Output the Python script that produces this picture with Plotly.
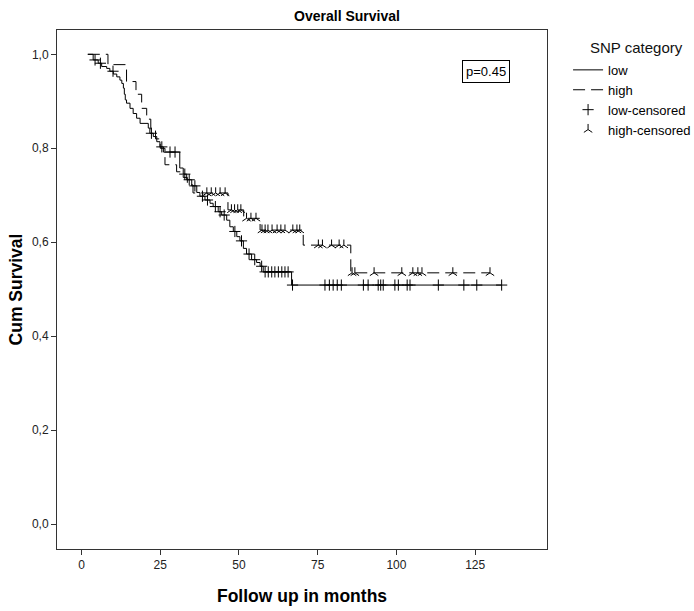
import numpy as np
import plotly.graph_objects as go

# ---- data ----
start_time = 2.0

low_event_times = [3.7, 5.3, 6.4, 8.0, 9.0, 10.1, 11.2, 12.2, 12.8, 13.3, 13.6, 13.9, 14.3, 15.4,
                   16.4, 17.5, 18.6, 21.2, 21.7, 22.8, 23.9, 24.9, 26.0, 31.2, 32.3, 33.4, 35.0,
                   36.6, 37.6, 39.2, 40.8, 41.8, 43.4, 44.5, 46.1, 47.1, 48.2, 49.3, 50.3, 51.4,
                   52.4, 54.0, 55.6, 56.7, 57.7, 66.7]
low_surv = [0.988, 0.981, 0.974, 0.970, 0.964, 0.958, 0.952, 0.945, 0.938, 0.928, 0.915, 0.903,
            0.896, 0.885, 0.874, 0.864, 0.853, 0.843, 0.832, 0.825, 0.814, 0.803, 0.792, 0.758,
            0.745, 0.733, 0.720, 0.706, 0.698, 0.690, 0.683, 0.676, 0.665, 0.658, 0.647, 0.633,
            0.623, 0.612, 0.603, 0.587, 0.575, 0.563, 0.557, 0.549, 0.537, 0.509]
low_censor_times = [4.3, 6.0, 10.0, 22.2, 25.5, 28.1, 29.7, 32.8, 34.2, 36.0, 38.4, 40.0, 42.5,
                    44.0, 45.3, 48.7, 50.8, 53.2, 55.0, 57.2, 58.3, 59.3, 60.4, 61.4, 62.5, 63.6,
                    64.6, 65.6, 67.0, 77.3, 78.7, 79.9, 81.2, 82.5, 89.5, 91.0, 94.2, 95.0, 95.8,
                    99.5, 100.6, 103.4, 104.3, 113.3, 121.4, 125.5, 133.4]

high_event_times = [8.4, 14.3, 17.3, 19.1, 20.7, 22.0, 23.5, 25.0, 26.5, 30.2, 32.3, 33.6, 35.4,
                    46.5, 51.5, 56.7, 70.4, 85.5]
high_surv = [0.978, 0.942, 0.915, 0.885, 0.862, 0.840, 0.820, 0.800, 0.765, 0.750, 0.738, 0.722,
             0.705, 0.669, 0.651, 0.626, 0.594, 0.535]
high_censor_times = [39.8, 41.2, 42.6, 44.0, 45.6, 47.6, 48.6, 49.6, 50.6, 52.4, 53.8, 55.4,
                     57.3, 58.3, 59.2, 60.5, 62.1, 63.3, 64.6, 67.1, 68.4, 69.3, 75.2, 76.5,
                     79.4, 81.8, 83.3, 85.9, 86.8, 92.9, 101.7, 105.2, 106.8, 108.1, 117.9, 129.7]

x_ticks = [0, 25, 50, 75, 100, 125]
y_ticks = [0.0, 0.2, 0.4, 0.6, 0.8, 1.0]
p_text = "p=0.45"
legend_title = "SNP category"


def step_xy(times, surv, censors):
    end = max(censors[-1], times[-1])
    xs = [start_time] + list(times) + [end]
    ys = [1.0] + list(surv) + [surv[-1]]
    return xs, ys


def surv_at(times, surv, t):
    t_arr = np.array(times)
    s_arr = np.array([1.0] + list(surv))
    idx = np.searchsorted(t_arr, t, side="right")
    return s_arr[idx]


FONT = "Arial, Liberation Sans, sans-serif"
fig = go.Figure()

lx, ly = step_xy(low_event_times, low_surv, low_censor_times)
hx, hy = step_xy(high_event_times, high_surv, high_censor_times)

fig.add_trace(go.Scatter(x=lx, y=ly, mode="lines", line_shape="hv", name="low",
                         line=dict(color="black", width=1)))
fig.add_trace(go.Scatter(x=hx, y=hy, mode="lines", line_shape="hv", name="high",
                         line=dict(color="black", width=1, dash="12px,6px")))
fig.add_trace(go.Scatter(x=low_censor_times,
                         y=[surv_at(low_event_times, low_surv, t) for t in low_censor_times],
                         mode="markers", name="low-censored",
                         marker=dict(symbol="cross-thin", size=8, color="black",
                                     line=dict(color="black", width=1))))
fig.add_trace(go.Scatter(x=high_censor_times,
                         y=[surv_at(high_event_times, high_surv, t) for t in high_censor_times],
                         mode="markers", name="high-censored",
                         marker=dict(symbol="y-up", size=7, color="black",
                                     line=dict(color="black", width=1))))

fig.add_annotation(xref="paper", yref="paper", x=0.8765, y=0.921, text=p_text,
                   xanchor="center", yanchor="middle",
                   showarrow=False, font=dict(family=FONT, size=13, color="black"),
                   bordercolor="black", borderwidth=1, borderpad=3, bgcolor="white")
fig.add_annotation(xref="paper", yref="paper", x=1.084, y=0.967, text=legend_title,
                   xanchor="left", yanchor="middle", showarrow=False,
                   font=dict(family=FONT, size=15, color="#111"))

fig.update_layout(
    width=694, height=611,
    margin=dict(l=57, r=147, t=30, b=62, autoexpand=False),
    paper_bgcolor="white", plot_bgcolor="white",
    separators=",.",
    font=dict(family=FONT, size=12, color="black"),
    title=dict(text="<b>Overall Survival</b>", x=0.5, xanchor="center", y=0.974,
               yanchor="middle", font=dict(family=FONT, size=14, color="black")),
    showlegend=True,
    legend=dict(x=1.043, y=0.952, xanchor="left", yanchor="top",
                font=dict(family=FONT, size=13), tracegroupgap=0,
                bgcolor="rgba(0,0,0,0)"),
    xaxis=dict(range=[-7.78, 147.8], tickvals=x_ticks, ticktext=[str(v) for v in x_ticks],
               automargin=False,
               showgrid=False, zeroline=False, showline=True, linecolor="#333",
               linewidth=1, mirror=True, ticks="outside", ticklen=5, tickcolor="#333",
               tickfont=dict(family=FONT, size=12, color="#222"),
               title=dict(text="<b>Follow up in months</b>", standoff=18,
                          font=dict(family=FONT, size=17.5, color="black"))),
    yaxis=dict(range=[-0.0526, 1.0517], tickvals=y_ticks, tickformat=".1f",
               automargin=False,
               showgrid=False, zeroline=False, showline=True, linecolor="#333",
               linewidth=1, mirror=True, ticks="outside", ticklen=5, tickcolor="#333",
               tickfont=dict(family=FONT, size=12, color="#222"),
               title=dict(text="<b>Cum Survival</b>", standoff=4,
                          font=dict(family=FONT, size=17.5, color="black"))),
)

fig.write_html("out.html")
